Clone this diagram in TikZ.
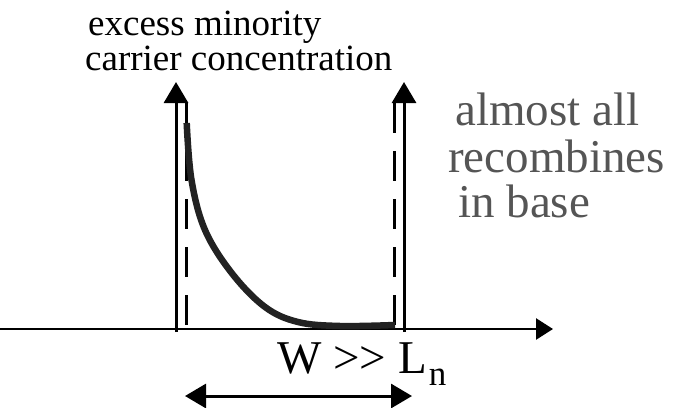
\documentclass[tikz,border=0pt]{standalone}
\usepackage{fontspec}
\setmainfont{Liberation Serif}
\usetikzlibrary{arrows.meta}
\definecolor{txtgray}{HTML}{555555}
\definecolor{curvecol}{HTML}{222222}
\tikzset{
  axisline/.style={line width=2.6pt, black},
  vline/.style={line width=3pt, black, -{Triangle[length=21pt,width=24pt]}},
  dline/.style={line width=3pt, black, dash pattern=on 30pt off 18pt},
  biglabel/.style={inner sep=0pt, anchor=base west, font=\fontsize{47}{47}\selectfont},
  toplabel/.style={inner sep=0pt, anchor=base west, font=\fontsize{37}{37}\selectfont},
}
\begin{document}
\begin{tikzpicture}[x=1pt,y=-1pt]
\useasboundingbox (0,0) rectangle (679,407);
% coordinates
\coordinate (ax0) at (0,329);
\coordinate (ax1) at (553,329);
\coordinate (l0) at (176,332);
\coordinate (l1) at (176,82);
\coordinate (r0) at (404,332);
\coordinate (r1) at (404,82);
\coordinate (dl0) at (186,332);
\coordinate (dl1) at (186,103);
\coordinate (dr0) at (394,332);
\coordinate (dr1) at (394,103);
\coordinate (w0) at (185,396);
\coordinate (w1) at (412,396);
% axes
\draw[axisline, -{Triangle[length=17pt,width=21pt]}] (ax0) -- (ax1);
\draw[vline] (l0) -- (l1);
\draw[vline] (r0) -- (r1);
\draw[dline] (dl1) -- (dl0);
\draw[dline] (dr1) -- (dr0);
% curve
\draw[line width=6.5pt, curvecol] plot[smooth, tension=0.6] coordinates
  {(186.7,123) (191.5,180) (205,230) (231.7,273) (265,307) (298,322) (340,326) (395,325)};
% double arrow
\draw[line width=3pt, {Triangle[length=21pt,width=24pt]}-{Triangle[length=21pt,width=24pt]}] (w0) -- (w1);
% labels
\node[toplabel] (t1) at (88,35) {excess minority};
\node[toplabel] (t2) at (85,70) {carrier concentration};
\node[biglabel, txtgray] (a1) at (455,125) {almost all};
\node[biglabel, txtgray] (a2) at (448,172) {recombines};
\node[biglabel, txtgray] (a3) at (458,217) {in base};
\node[biglabel] (wl) at (277,373) {W >{}> L\kern2pt\raisebox{-12pt}{\fontsize{35}{35}\selectfont n}};
\end{tikzpicture}
\end{document}
